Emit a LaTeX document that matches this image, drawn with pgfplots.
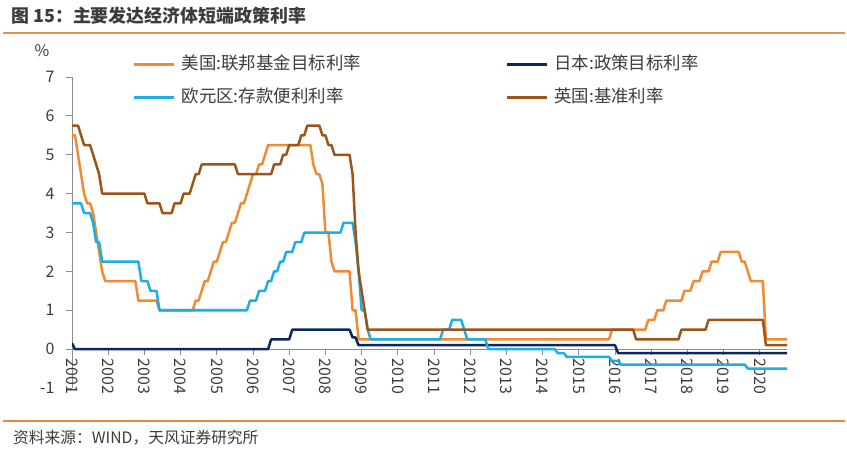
\documentclass[border=0pt]{standalone}
\usepackage{fontspec}
\setmainfont{Noto Sans CJK SC}
\usepackage{pgfplots}
\pgfplotsset{compat=1.18}

\definecolor{usline}{RGB}{237,140,52}
\definecolor{jpline}{RGB}{12,40,90}
\definecolor{euline}{RGB}{28,174,228}
\definecolor{ukline}{RGB}{155,85,24}
\definecolor{axisgray}{RGB}{140,140,140}
\definecolor{textgray}{RGB}{60,60,60}
\definecolor{topline}{RGB}{212,150,90}
\definecolor{botline}{RGB}{232,136,58}

\begin{document}
\begin{tikzpicture}
\useasboundingbox (0bp,0bp) rectangle (847bp,452bp);
% title and frame lines
\node[anchor=west, inner sep=0pt, text=textgray, font=\fontsize{18}{18}\selectfont\bfseries] at (11bp,436bp) {图 15：主要发达经济体短端政策利率};
\draw[topline, line width=2bp] (3bp,419bp) -- (845bp,419bp);
\draw[botline, line width=2bp] (3bp,31bp) -- (845bp,31bp);
\node[anchor=west, inner sep=0pt, text=textgray, font=\fontsize{15.8}{15.8}\selectfont] at (13bp,14bp) {资料来源：WIND，天风证券研究所};
\node[inner sep=0pt, text=textgray, font=\fontsize{16}{16}\selectfont] at (42bp,401bp) {\%};

\begin{axis}[
  at={(72bp,64bp)}, anchor=south west,
  scale only axis, width=715bp, height=311bp,
  xmin=0, xmax=237, ymin=-1, ymax=7,
  axis x line=middle, axis y line=left,
  axis line style={-, draw=axisgray, line width=1bp},
  hide obscured x ticks=false, hide obscured y ticks=false,
  xtick={0,12,...,228},
  xticklabels={2001,2002,2003,2004,2005,2006,2007,2008,2009,2010,2011,2012,2013,2014,2015,2016,2017,2018,2019,2020},
  ytick={-1,0,...,7},
  tick align=outside, major tick length=6bp,
  tick style={draw=axisgray, line width=0.8bp},
  x tick label style={rotate=-90, anchor=west, font=\fontsize{16}{16}\selectfont, text=textgray},
  y tick label style={font=\fontsize{16}{16}\selectfont, text=textgray, xshift=-8bp},
  /pgf/number format/assume math mode=true,
  legend columns=2,
  legend cell align=left,
  legend style={at={(axis description cs:0.0853,1.0785)}, anchor=north west, draw=none, fill=none,
    inner sep=0pt, row sep=10bp,
    font=\fontsize{17.5}{21}\selectfont, text=textgray,
    nodes={inner sep=2bp, text height=15bp, text depth=4bp},
    /tikz/every even column/.append style={column sep=143bp}},
  legend image code/.code={\draw[#1, line width=2.5bp] (0bp,0bp) -- (40bp,0bp); \path (44bp,0bp);},
  every axis plot/.append style={line width=2.5bp, line join=round, no markers},
]
% US federal funds target
\addplot[usline] coordinates {
(0,5.5)(1,5.5)(2,5.0)(3,4.5)(4,4.0)(5,3.75)(6,3.75)(7,3.5)(8,3.0)(9,2.5)(10,2.0)(11,1.75)
(21,1.75)(22,1.25)(28,1.25)(29,1.0)(40,1.0)(41,1.25)(42,1.25)(43,1.5)(44,1.75)(45,1.75)
(46,2.0)(47,2.25)(48,2.25)(49,2.5)(50,2.75)(51,2.75)(52,3.0)(53,3.25)(54,3.25)(55,3.5)
(56,3.75)(57,3.75)(58,4.0)(59,4.25)(60,4.5)(61,4.5)(62,4.75)(63,4.75)(64,5.0)(65,5.25)
(79,5.25)(80,4.75)(81,4.5)(82,4.5)(83,4.25)(84,3.0)(85,3.0)(86,2.25)(87,2.0)(92,2.0)
(93,1.0)(94,1.0)(95,0.25)(178,0.25)(179,0.5)(190,0.5)(191,0.75)(193,0.75)(194,1.0)
(196,1.0)(197,1.25)(202,1.25)(203,1.5)(205,1.5)(206,1.75)(208,1.75)(209,2.0)(211,2.0)
(212,2.25)(214,2.25)(215,2.5)(221,2.5)(222,2.25)(223,2.25)(224,2.0)(225,1.75)(229,1.75)
(230,0.25)(237,0.25)
};
\addlegendentry{美国:联邦基金目标利率}
% Japan policy target
\addplot[jpline] coordinates {
(0,0.15)(1,0)(65,0)(66,0.25)(72,0.25)(73,0.5)(92,0.5)(93,0.3)(94,0.3)(95,0.1)
(180,0.1)(181,-0.1)(237,-0.1)
};
\addlegendentry{日本:政策目标利率}
% Euro area deposit facility
\addplot[euline] coordinates {
(0,3.75)(3,3.75)(4,3.5)(6,3.5)(7,3.25)(8,2.75)(9,2.75)(10,2.25)(22,2.25)(23,1.75)
(25,1.75)(26,1.5)(28,1.5)(29,1.0)(58,1.0)(59,1.25)(61,1.25)(62,1.5)(64,1.5)(65,1.75)
(66,1.75)(67,2.0)(68,2.0)(69,2.25)(70,2.25)(71,2.5)(73,2.5)(74,2.75)(76,2.75)(77,3.0)
(89,3.0)(90,3.25)(93,3.25)(94,2.75)(95,2.0)(96,1.0)(97,1.0)(98,0.5)(99,0.25)(122,0.25)
(123,0.5)(125,0.5)(126,0.75)(129,0.75)(130,0.5)(131,0.25)(137,0.25)(138,0)(160,0)
(161,-0.1)(163,-0.1)(164,-0.2)(178,-0.2)(179,-0.3)(181,-0.3)(182,-0.4)(223,-0.4)
(224,-0.5)(237,-0.5)
};
\addlegendentry{欧元区:存款便利利率}
% UK bank rate
\addplot[ukline] coordinates {
(0,5.75)(2,5.75)(3,5.5)(4,5.25)(6,5.25)(7,5.0)(8,4.75)(9,4.5)(10,4.0)(24,4.0)(25,3.75)
(29,3.75)(30,3.5)(33,3.5)(34,3.75)(36,3.75)(37,4.0)(39,4.0)(40,4.25)(41,4.5)(42,4.5)
(43,4.75)(54,4.75)(55,4.5)(66,4.5)(67,4.75)(69,4.75)(70,5.0)(71,5.0)(72,5.25)(75,5.25)
(76,5.5)(77,5.5)(78,5.75)(82,5.75)(83,5.5)(84,5.5)(85,5.25)(86,5.25)(87,5.0)(92,5.0)
(93,4.5)(94,3.0)(95,2.0)(96,1.5)(97,1.0)(98,0.5)(186,0.5)(187,0.25)(201,0.25)(202,0.5)
(210,0.5)(211,0.75)(229,0.75)(230,0.1)(237,0.1)
};
\addlegendentry{英国:基准利率}
\end{axis}
\end{tikzpicture}
\end{document}
